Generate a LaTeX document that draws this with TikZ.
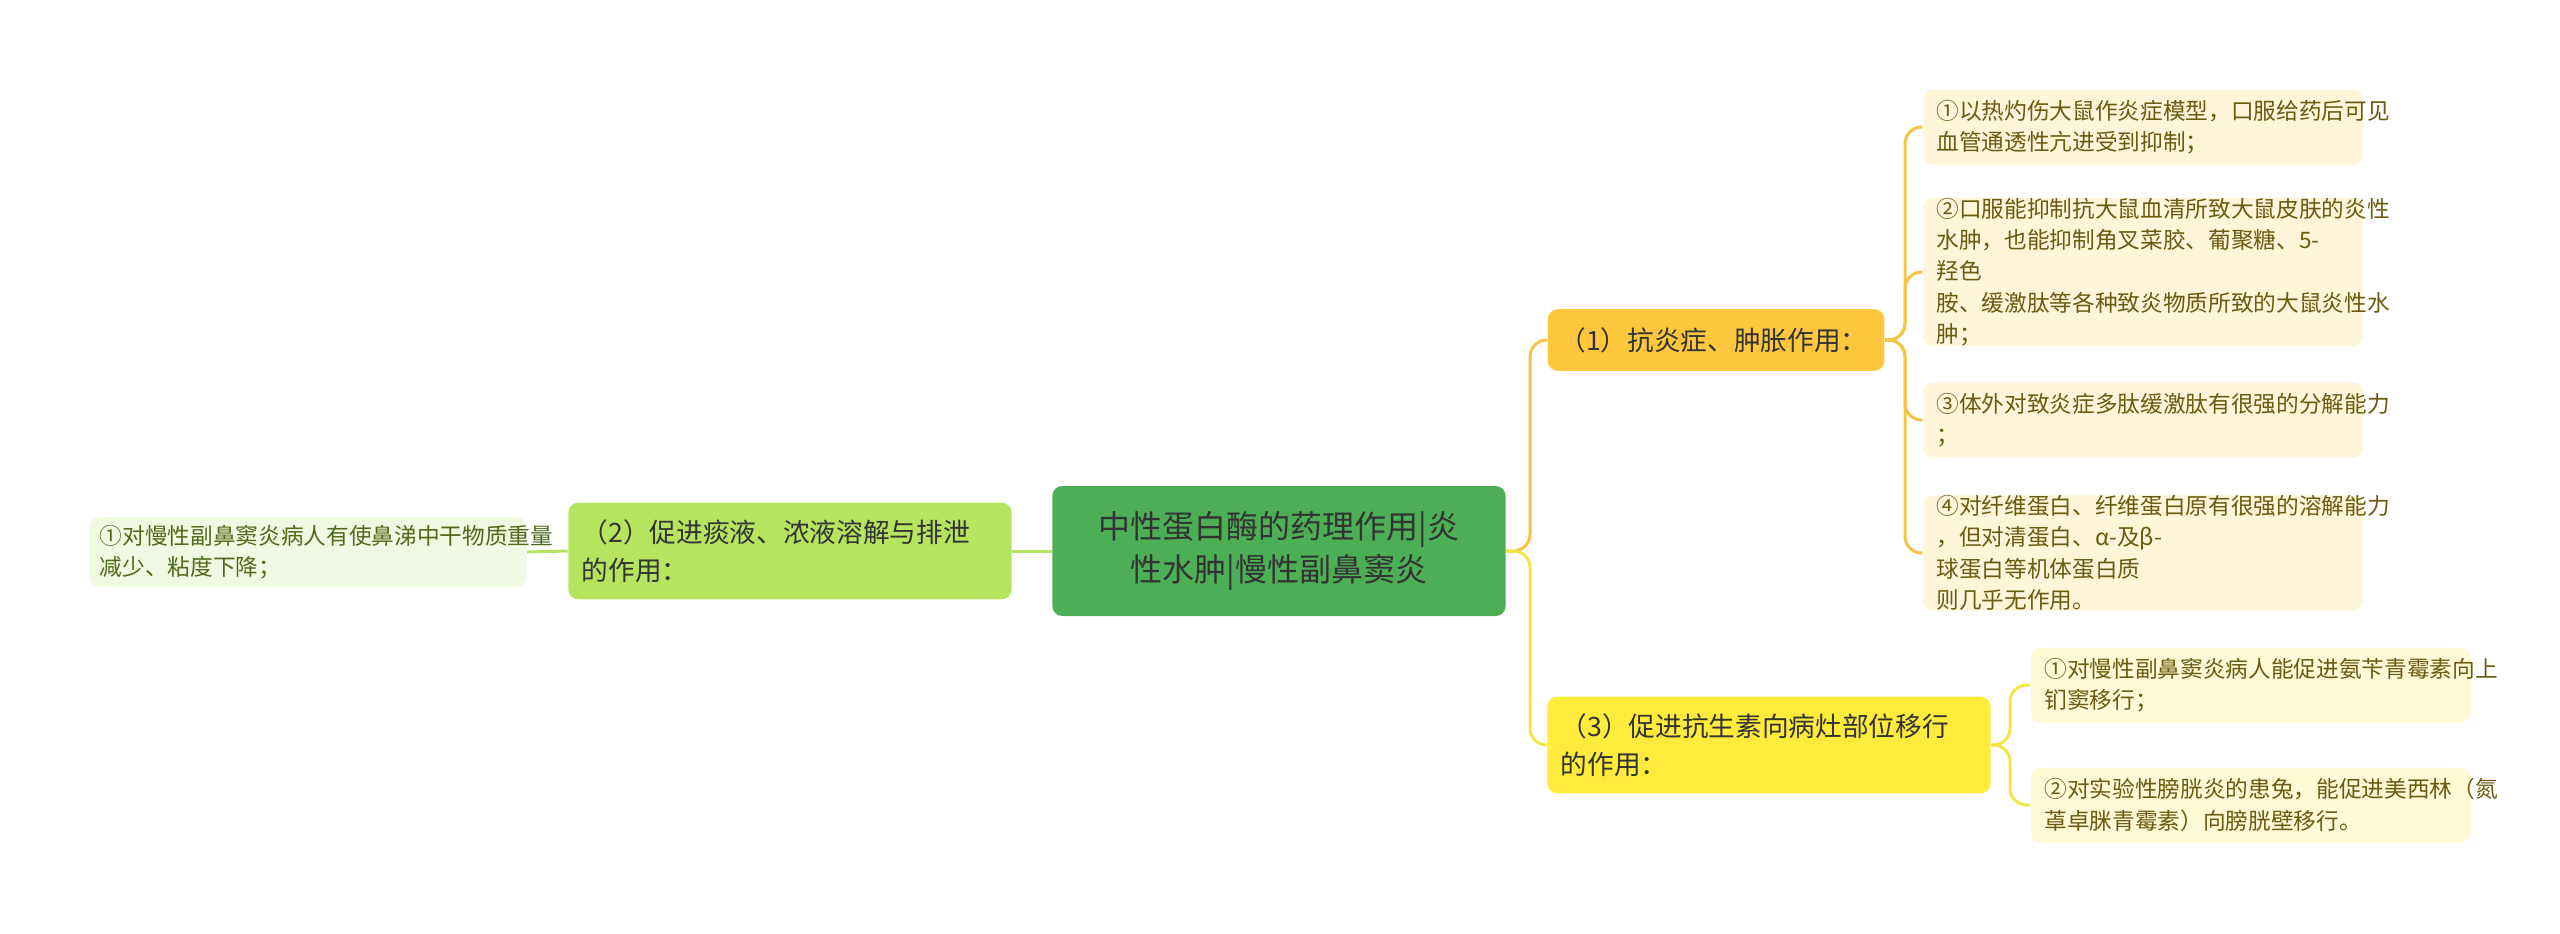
\documentclass[tikz,border=0pt]{standalone}
\usepackage{fontspec}
\setmainfont{Noto Sans CJK SC}
\definecolor{rootgreen}{HTML}{4CAF55}
\definecolor{leftgreen}{HTML}{B5E55F}
\definecolor{leftleaf}{HTML}{F0F9E2}
\definecolor{leftink}{HTML}{4E6B1C}
\definecolor{orangeb}{HTML}{FFC73D}
\definecolor{orangeleaf}{HTML}{FFF5D9}
\definecolor{orangeline}{HTML}{F6C443}
\definecolor{yellowb}{HTML}{FFEB3B}
\definecolor{yellowleaf}{HTML}{FFF9D5}
\definecolor{yellowline}{HTML}{F4E545}
\definecolor{leafink}{HTML}{6B5A10}
\definecolor{darkink}{HTML}{333333}
\begin{document}
\begin{tikzpicture}[x=0.3pt, y=-0.3pt,
	box/.style={rounded corners=3pt, inner sep=0pt, align=left, text=darkink},
	rootbox/.style={box, fill=rootgreen, font=\fontsize{9.6}{13}\selectfont, align=center},
	branchbox/.style={box, font=\fontsize{8}{11.5}\selectfont},
	leafbox/.style={box, font=\fontsize{6.8}{9.4}\selectfont},
	link/.style={line width=0.9pt, rounded corners=5pt}]
	\useasboundingbox (0,0) rectangle (2560,933);
	%center
	\node[rootbox, minimum width=136pt, minimum height=39pt] (root) at (1279,551)
	{中性蛋白酶的药理作用|炎\\性水肿|慢性副鼻窦炎};
	%left side
	\node[branchbox, fill=leftgreen, minimum width=133pt, minimum height=29pt, text width=125pt] (left) at (790,551)
	{（2）促进痰液、浓液溶解与排泄\\的作用：};
	\node[leafbox, fill=leftleaf, text=leftink, minimum width=131pt, minimum height=21pt, text width=125pt] (leftleaf) at (308,552)
	{①对慢性副鼻窦炎病人有使鼻涕中干物质重量\\减少、粘度下降；};
	%right side
	\node[branchbox, fill=orangeb, minimum width=101pt, minimum height=18.5pt, text width=94pt] (anti) at (1716,340)
	{（1）抗炎症、肿胀作用：};
	\node[branchbox, fill=yellowb, minimum width=133pt, minimum height=29pt, text width=125pt] (drug) at (1769,745)
	{（3）促进抗生素向病灶部位移行\\的作用：};
	%leaves of (1)
	\node[leafbox, fill=orangeleaf, text=leafink, minimum width=132pt, minimum height=22.5pt, text width=124pt] (a1) at (2143,127)
	{①以热灼伤大鼠作炎症模型，口服给药后可见\\血管通透性亢进受到抑制；};
	\node[leafbox, fill=orangeleaf, text=leafink, minimum width=132pt, minimum height=39pt, text width=124pt] (a2) at (2143,272)
	{②口服能抑制抗大鼠血清所致大鼠皮肤的炎性\\水肿，也能抑制角叉菜胶、葡聚糖、5-羟色\\胺、缓激肽等各种致炎物质所致的大鼠炎性水\\肿；};
	\node[leafbox, fill=orangeleaf, text=leafink, minimum width=132pt, minimum height=22.5pt, text width=124pt] (a3) at (2143,420)
	{③体外对致炎症多肽缓激肽有很强的分解能力\\；};
	\node[leafbox, fill=orangeleaf, text=leafink, minimum width=132pt, minimum height=31pt, text width=124pt] (a4) at (2143,553)
	{④对纤维蛋白、纤维蛋白原有很强的溶解能力\\，但对清蛋白、α-及β-球蛋白等机体蛋白质\\则几乎无作用。};
	%leaves of (3)
	\node[leafbox, fill=yellowleaf, text=leafink, minimum width=132pt, minimum height=22.5pt, text width=124pt] (b1) at (2251,685)
	{①对慢性副鼻窦炎病人能促进氨苄青霉素向上\\钔窦移行；};
	\node[leafbox, fill=yellowleaf, text=leafink, minimum width=132pt, minimum height=22.5pt, text width=124pt] (b2) at (2251,805)
	{②对实验性膀胱炎的患兔，能促进美西林（氮\\䓬卓脒青霉素）向膀胱壁移行。};
	%links
	\draw[link, leftgreen] (root.west) -- (left.east);
	\draw[link, leftgreen] (left.west) -- (leftleaf.east);
	\draw[link, orangeline] (root.east) -- (1530,551) |- (anti.west);
	\draw[link, yellowline] (root.east) -- (1530,551) |- (drug.west);
	\foreach \n in {a1,a2,a3,a4}
	\draw[link, orangeline] (anti.east) -- (1905,340) |- (\n.west);
	\foreach \n in {b1,b2}
	\draw[link, yellowline] (drug.east) -- (2010,745) |- (\n.west);
\end{tikzpicture}
\end{document}
